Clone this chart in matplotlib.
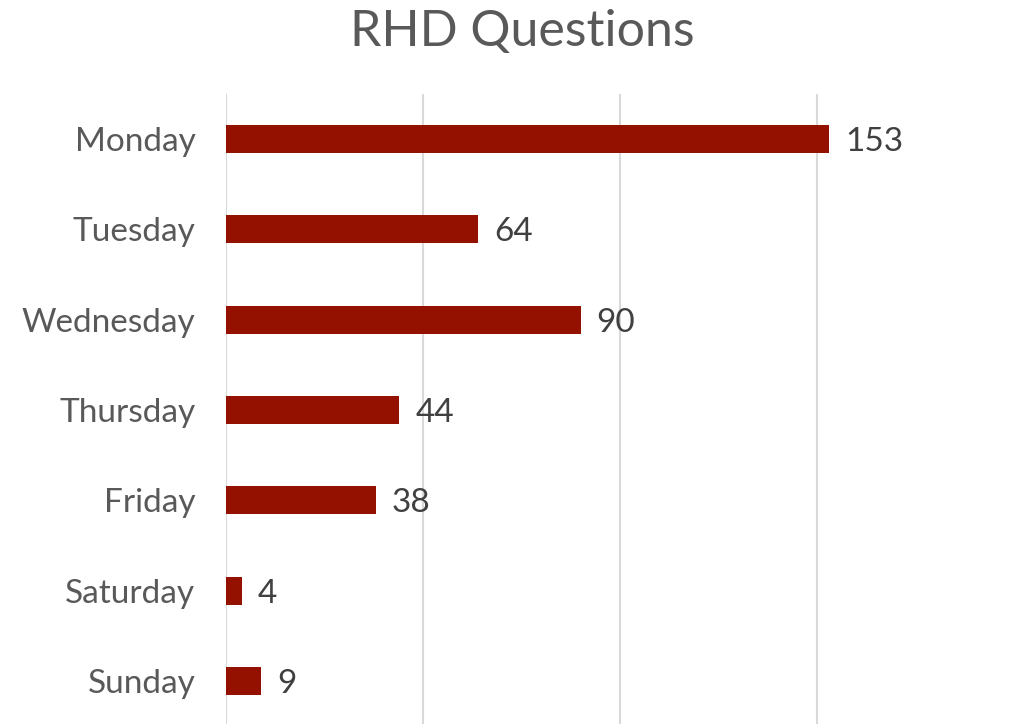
import matplotlib
matplotlib.use("Agg")
import matplotlib.pyplot as plt

categories = ["Monday", "Tuesday", "Wednesday", "Thursday", "Friday", "Saturday", "Sunday"]
values = [153, 64, 90, 44, 38, 4, 9]
xticks = [0, 50, 100, 150]

plt.rcParams['font.family'] = ['Lato', 'DejaVu Sans']

fig = plt.figure(figsize=(10.11, 7.24), dpi=100)
top_px = 93.8
ax = fig.add_axes([226/1011, 0.0, 1 - 226/1011, 1 - top_px/724])

y = list(range(len(categories)))
ax.barh(y, values, height=0.31, color="#941100", zorder=3)
ax.set_ylim(-0.5 + (724 - top_px) / 90.33, -0.5)
ax.set_xlim(0, (1011 - 226) / 3.94)
ax.set_xticks(xticks)
ax.set_xticklabels([])
ax.grid(axis='x', color="#d9d9d9", linewidth=1.5, zorder=0)
ax.tick_params(axis='x', length=0)
ax.tick_params(axis='y', length=0, pad=22, labelsize=24, labelcolor="#595959")
ax.set_yticks(y)
ax.set_yticklabels(categories)
for s in ax.spines.values():
    s.set_visible(False)

for yi, v in zip(y, values):
    ax.annotate(str(v), (v, yi), xytext=(16, -3), textcoords='offset pixels',
                va='center', ha='left', fontsize=24, color="#404040")

fig.text(522/1011, 1 - 32/724, "RHD Questions", ha='center', va='center',
         fontsize=36, color="#595959")

fig.savefig("out.png", dpi=100)
